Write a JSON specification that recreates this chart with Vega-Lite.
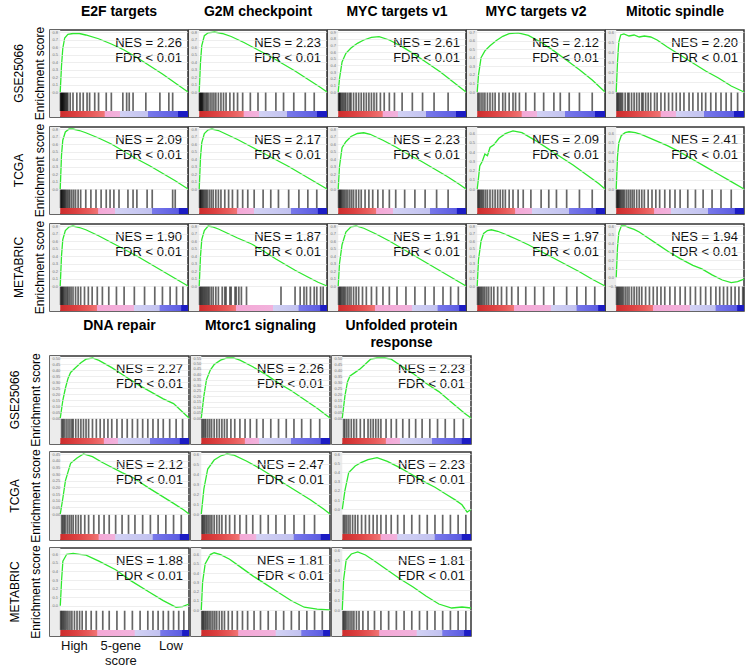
{
"$schema":"https://vega.github.io/schema/vega-lite/v6.json",
"padding":{"left":9,"top":5,"right":0,"bottom":0},
"config":{"font":"Liberation Sans","view":{"stroke":"#333","strokeWidth":1.5},"header":{"labelColor":"#000","labelFont":"Liberation Sans"}},
"datasets":{
"panels":[
{"p":"A1","g":"E2F targets","d":"GSE25066","nes":2.26,"s":"top"},
{"p":"A2","g":"G2M checkpoint","d":"GSE25066","nes":2.23,"s":"top"},
{"p":"A3","g":"MYC targets v1","d":"GSE25066","nes":2.61,"s":"top"},
{"p":"A4","g":"MYC targets v2","d":"GSE25066","nes":2.12,"s":"top"},
{"p":"A5","g":"Mitotic spindle","d":"GSE25066","nes":2.20,"s":"top"},
{"p":"B1","g":"E2F targets","d":"TCGA","nes":2.09,"s":"top"},
{"p":"B2","g":"G2M checkpoint","d":"TCGA","nes":2.17,"s":"top"},
{"p":"B3","g":"MYC targets v1","d":"TCGA","nes":2.23,"s":"top"},
{"p":"B4","g":"MYC targets v2","d":"TCGA","nes":2.09,"s":"top"},
{"p":"B5","g":"Mitotic spindle","d":"TCGA","nes":2.41,"s":"top"},
{"p":"C1","g":"E2F targets","d":"METABRIC","nes":1.90,"s":"top"},
{"p":"C2","g":"G2M checkpoint","d":"METABRIC","nes":1.87,"s":"top"},
{"p":"C3","g":"MYC targets v1","d":"METABRIC","nes":1.91,"s":"top"},
{"p":"C4","g":"MYC targets v2","d":"METABRIC","nes":1.97,"s":"top"},
{"p":"C5","g":"Mitotic spindle","d":"METABRIC","nes":1.94,"s":"top"},
{"p":"D1","g":"DNA repair","d":"GSE25066","nes":2.27,"s":"bottom"},
{"p":"D2","g":"Mtorc1 signaling","d":"GSE25066","nes":2.26,"s":"bottom"},
{"p":"D3","g":"Unfolded protein response","d":"GSE25066","nes":2.23,"s":"bottom"},
{"p":"E1","g":"DNA repair","d":"TCGA","nes":2.12,"s":"bottom"},
{"p":"E2","g":"Mtorc1 signaling","d":"TCGA","nes":2.47,"s":"bottom"},
{"p":"E3","g":"Unfolded protein response","d":"TCGA","nes":2.23,"s":"bottom"},
{"p":"F1","g":"DNA repair","d":"METABRIC","nes":1.88,"s":"bottom"},
{"p":"F2","g":"Mtorc1 signaling","d":"METABRIC","nes":1.81,"s":"bottom"},
{"p":"F3","g":"Unfolded protein response","d":"METABRIC","nes":1.81,"s":"bottom"}
],
"rows":[
{"p":"A1","t":"n"},{"p":"A2","t":"n"},{"p":"A3","t":"n"},{"p":"A4","t":"n"},{"p":"A5","t":"n"},
{"p":"B1","t":"n"},{"p":"B2","t":"n"},{"p":"B3","t":"n"},{"p":"B4","t":"n"},{"p":"B5","t":"n"},
{"p":"C1","t":"n"},{"p":"C2","t":"n"},{"p":"C3","t":"n"},{"p":"C4","t":"n"},{"p":"C5","t":"n"},
{"p":"D1","t":"n"},{"p":"D2","t":"n"},{"p":"D3","t":"n"},
{"p":"E1","t":"n"},{"p":"E2","t":"n"},{"p":"E3","t":"n"},
{"p":"F1","t":"n"},{"p":"F2","t":"n"},{"p":"F3","t":"n"},

{"p":"A1","r":0,"e":0},{"p":"A1","r":0.01,"e":0.35},{"p":"A1","r":0.02,"e":0.58},{"p":"A1","r":0.035,"e":0.72},{"p":"A1","r":0.06,"e":0.77},{"p":"A1","r":0.1,"e":0.78},{"p":"A1","r":0.15,"e":0.78},{"p":"A1","r":0.2,"e":0.76},{"p":"A1","r":0.3,"e":0.71},{"p":"A1","r":0.4,"e":0.64},{"p":"A1","r":0.5,"e":0.56},{"p":"A1","r":0.6,"e":0.46},{"p":"A1","r":0.7,"e":0.35},{"p":"A1","r":0.8,"e":0.24},{"p":"A1","r":0.9,"e":0.12},{"p":"A1","r":1,"e":0},
{"p":"A2","r":0,"e":0},{"p":"A2","r":0.01,"e":0.4},{"p":"A2","r":0.02,"e":0.62},{"p":"A2","r":0.04,"e":0.75},{"p":"A2","r":0.07,"e":0.79},{"p":"A2","r":0.12,"e":0.8},{"p":"A2","r":0.18,"e":0.78},{"p":"A2","r":0.25,"e":0.74},{"p":"A2","r":0.35,"e":0.66},{"p":"A2","r":0.45,"e":0.57},{"p":"A2","r":0.55,"e":0.48},{"p":"A2","r":0.65,"e":0.38},{"p":"A2","r":0.75,"e":0.28},{"p":"A2","r":0.85,"e":0.17},{"p":"A2","r":0.95,"e":0.06},{"p":"A2","r":1,"e":0},
{"p":"A3","r":0,"e":0},{"p":"A3","r":0.01,"e":0.2},{"p":"A3","r":0.03,"e":0.45},{"p":"A3","r":0.06,"e":0.58},{"p":"A3","r":0.1,"e":0.66},{"p":"A3","r":0.15,"e":0.73},{"p":"A3","r":0.2,"e":0.78},{"p":"A3","r":0.26,"e":0.82},{"p":"A3","r":0.32,"e":0.83},{"p":"A3","r":0.4,"e":0.78},{"p":"A3","r":0.5,"e":0.68},{"p":"A3","r":0.6,"e":0.56},{"p":"A3","r":0.7,"e":0.43},{"p":"A3","r":0.8,"e":0.3},{"p":"A3","r":0.9,"e":0.15},{"p":"A3","r":1,"e":0},
{"p":"A4","r":0,"e":0},{"p":"A4","r":0.01,"e":0.2},{"p":"A4","r":0.03,"e":0.4},{"p":"A4","r":0.06,"e":0.48},{"p":"A4","r":0.1,"e":0.54},{"p":"A4","r":0.15,"e":0.6},{"p":"A4","r":0.2,"e":0.65},{"p":"A4","r":0.25,"e":0.68},{"p":"A4","r":0.32,"e":0.69},{"p":"A4","r":0.4,"e":0.66},{"p":"A4","r":0.5,"e":0.58},{"p":"A4","r":0.6,"e":0.48},{"p":"A4","r":0.7,"e":0.37},{"p":"A4","r":0.8,"e":0.26},{"p":"A4","r":0.9,"e":0.14},{"p":"A4","r":1,"e":0},
{"p":"A5","r":0,"e":0},{"p":"A5","r":0.01,"e":0.3},{"p":"A5","r":0.02,"e":0.5},{"p":"A5","r":0.035,"e":0.57},{"p":"A5","r":0.06,"e":0.58},{"p":"A5","r":0.1,"e":0.56},{"p":"A5","r":0.14,"e":0.57},{"p":"A5","r":0.18,"e":0.55},{"p":"A5","r":0.22,"e":0.56},{"p":"A5","r":0.27,"e":0.55},{"p":"A5","r":0.32,"e":0.52},{"p":"A5","r":0.4,"e":0.45},{"p":"A5","r":0.5,"e":0.37},{"p":"A5","r":0.6,"e":0.29},{"p":"A5","r":0.7,"e":0.21},{"p":"A5","r":0.8,"e":0.14},{"p":"A5","r":0.9,"e":0.06},{"p":"A5","r":1,"e":0},
{"p":"B1","r":0,"e":0},{"p":"B1","r":0.01,"e":0.45},{"p":"B1","r":0.02,"e":0.65},{"p":"B1","r":0.04,"e":0.76},{"p":"B1","r":0.07,"e":0.8},{"p":"B1","r":0.1,"e":0.8},{"p":"B1","r":0.15,"e":0.78},{"p":"B1","r":0.2,"e":0.75},{"p":"B1","r":0.3,"e":0.68},{"p":"B1","r":0.4,"e":0.6},{"p":"B1","r":0.5,"e":0.5},{"p":"B1","r":0.6,"e":0.4},{"p":"B1","r":0.7,"e":0.31},{"p":"B1","r":0.8,"e":0.21},{"p":"B1","r":0.9,"e":0.11},{"p":"B1","r":1,"e":0},
{"p":"B2","r":0,"e":0},{"p":"B2","r":0.01,"e":0.42},{"p":"B2","r":0.02,"e":0.62},{"p":"B2","r":0.04,"e":0.74},{"p":"B2","r":0.07,"e":0.79},{"p":"B2","r":0.1,"e":0.8},{"p":"B2","r":0.15,"e":0.78},{"p":"B2","r":0.2,"e":0.74},{"p":"B2","r":0.3,"e":0.66},{"p":"B2","r":0.4,"e":0.57},{"p":"B2","r":0.5,"e":0.48},{"p":"B2","r":0.6,"e":0.39},{"p":"B2","r":0.7,"e":0.3},{"p":"B2","r":0.8,"e":0.2},{"p":"B2","r":0.9,"e":0.1},{"p":"B2","r":1,"e":0},
{"p":"B3","r":0,"e":0},{"p":"B3","r":0.01,"e":0.3},{"p":"B3","r":0.03,"e":0.55},{"p":"B3","r":0.06,"e":0.63},{"p":"B3","r":0.1,"e":0.7},{"p":"B3","r":0.15,"e":0.74},{"p":"B3","r":0.2,"e":0.75},{"p":"B3","r":0.25,"e":0.73},{"p":"B3","r":0.35,"e":0.65},{"p":"B3","r":0.45,"e":0.56},{"p":"B3","r":0.55,"e":0.46},{"p":"B3","r":0.65,"e":0.37},{"p":"B3","r":0.75,"e":0.27},{"p":"B3","r":0.85,"e":0.17},{"p":"B3","r":0.95,"e":0.06},{"p":"B3","r":1,"e":0},
{"p":"B4","r":0,"e":0},{"p":"B4","r":0.01,"e":0.12},{"p":"B4","r":0.02,"e":0.25},{"p":"B4","r":0.04,"e":0.3},{"p":"B4","r":0.06,"e":0.38},{"p":"B4","r":0.08,"e":0.36},{"p":"B4","r":0.1,"e":0.45},{"p":"B4","r":0.13,"e":0.48},{"p":"B4","r":0.17,"e":0.55},{"p":"B4","r":0.22,"e":0.6},{"p":"B4","r":0.28,"e":0.63},{"p":"B4","r":0.35,"e":0.61},{"p":"B4","r":0.45,"e":0.53},{"p":"B4","r":0.55,"e":0.44},{"p":"B4","r":0.65,"e":0.35},{"p":"B4","r":0.75,"e":0.26},{"p":"B4","r":0.85,"e":0.16},{"p":"B4","r":0.95,"e":0.06},{"p":"B4","r":1,"e":0},
{"p":"B5","r":0,"e":0},{"p":"B5","r":0.01,"e":0.35},{"p":"B5","r":0.02,"e":0.5},{"p":"B5","r":0.04,"e":0.58},{"p":"B5","r":0.07,"e":0.61},{"p":"B5","r":0.1,"e":0.62},{"p":"B5","r":0.15,"e":0.61},{"p":"B5","r":0.2,"e":0.59},{"p":"B5","r":0.3,"e":0.53},{"p":"B5","r":0.4,"e":0.47},{"p":"B5","r":0.5,"e":0.4},{"p":"B5","r":0.6,"e":0.32},{"p":"B5","r":0.7,"e":0.24},{"p":"B5","r":0.8,"e":0.16},{"p":"B5","r":0.9,"e":0.08},{"p":"B5","r":1,"e":0},
{"p":"C1","r":0,"e":0},{"p":"C1","r":0.01,"e":0.4},{"p":"C1","r":0.02,"e":0.62},{"p":"C1","r":0.04,"e":0.74},{"p":"C1","r":0.07,"e":0.79},{"p":"C1","r":0.1,"e":0.8},{"p":"C1","r":0.15,"e":0.78},{"p":"C1","r":0.2,"e":0.75},{"p":"C1","r":0.3,"e":0.67},{"p":"C1","r":0.4,"e":0.58},{"p":"C1","r":0.5,"e":0.49},{"p":"C1","r":0.6,"e":0.4},{"p":"C1","r":0.7,"e":0.3},{"p":"C1","r":0.8,"e":0.2},{"p":"C1","r":0.9,"e":0.1},{"p":"C1","r":1,"e":0},
{"p":"C2","r":0,"e":0},{"p":"C2","r":0.01,"e":0.4},{"p":"C2","r":0.02,"e":0.62},{"p":"C2","r":0.04,"e":0.74},{"p":"C2","r":0.07,"e":0.8},{"p":"C2","r":0.1,"e":0.79},{"p":"C2","r":0.15,"e":0.76},{"p":"C2","r":0.2,"e":0.72},{"p":"C2","r":0.3,"e":0.64},{"p":"C2","r":0.41,"e":0.56},{"p":"C2","r":0.5,"e":0.47},{"p":"C2","r":0.6,"e":0.36},{"p":"C2","r":0.67,"e":0.29},{"p":"C2","r":0.75,"e":0.21},{"p":"C2","r":0.85,"e":0.12},{"p":"C2","r":0.93,"e":0.05},{"p":"C2","r":1,"e":0},
{"p":"C3","r":0,"e":0},{"p":"C3","r":0.01,"e":0.3},{"p":"C3","r":0.03,"e":0.55},{"p":"C3","r":0.06,"e":0.72},{"p":"C3","r":0.1,"e":0.79},{"p":"C3","r":0.14,"e":0.8},{"p":"C3","r":0.2,"e":0.77},{"p":"C3","r":0.3,"e":0.69},{"p":"C3","r":0.4,"e":0.6},{"p":"C3","r":0.5,"e":0.5},{"p":"C3","r":0.6,"e":0.4},{"p":"C3","r":0.7,"e":0.3},{"p":"C3","r":0.8,"e":0.2},{"p":"C3","r":0.9,"e":0.1},{"p":"C3","r":1,"e":0},
{"p":"C4","r":0,"e":0},{"p":"C4","r":0.01,"e":0.35},{"p":"C4","r":0.03,"e":0.6},{"p":"C4","r":0.05,"e":0.7},{"p":"C4","r":0.08,"e":0.74},{"p":"C4","r":0.11,"e":0.75},{"p":"C4","r":0.16,"e":0.73},{"p":"C4","r":0.22,"e":0.69},{"p":"C4","r":0.3,"e":0.63},{"p":"C4","r":0.4,"e":0.55},{"p":"C4","r":0.5,"e":0.46},{"p":"C4","r":0.6,"e":0.37},{"p":"C4","r":0.7,"e":0.28},{"p":"C4","r":0.8,"e":0.19},{"p":"C4","r":0.9,"e":0.09},{"p":"C4","r":1,"e":0},
{"p":"C5","r":0,"e":0},{"p":"C5","r":0.01,"e":0.35},{"p":"C5","r":0.02,"e":0.52},{"p":"C5","r":0.04,"e":0.6},{"p":"C5","r":0.07,"e":0.6},{"p":"C5","r":0.1,"e":0.58},{"p":"C5","r":0.14,"e":0.56},{"p":"C5","r":0.18,"e":0.53},{"p":"C5","r":0.25,"e":0.46},{"p":"C5","r":0.33,"e":0.38},{"p":"C5","r":0.41,"e":0.3},{"p":"C5","r":0.5,"e":0.22},{"p":"C5","r":0.6,"e":0.14},{"p":"C5","r":0.67,"e":0.1},{"p":"C5","r":0.75,"e":0.03},{"p":"C5","r":0.83,"e":-0.03},{"p":"C5","r":0.9,"e":-0.06},{"p":"C5","r":0.95,"e":-0.05},{"p":"C5","r":1,"e":-0.02},
{"p":"D1","r":0,"e":0},{"p":"D1","r":0.02,"e":0.15},{"p":"D1","r":0.04,"e":0.25},{"p":"D1","r":0.06,"e":0.33},{"p":"D1","r":0.08,"e":0.38},{"p":"D1","r":0.12,"e":0.42},{"p":"D1","r":0.16,"e":0.46},{"p":"D1","r":0.2,"e":0.49},{"p":"D1","r":0.25,"e":0.5},{"p":"D1","r":0.3,"e":0.48},{"p":"D1","r":0.4,"e":0.42},{"p":"D1","r":0.5,"e":0.35},{"p":"D1","r":0.6,"e":0.28},{"p":"D1","r":0.7,"e":0.22},{"p":"D1","r":0.8,"e":0.16},{"p":"D1","r":0.88,"e":0.12},{"p":"D1","r":0.95,"e":0.05},{"p":"D1","r":1,"e":0},
{"p":"D2","r":0,"e":0},{"p":"D2","r":0.02,"e":0.2},{"p":"D2","r":0.04,"e":0.35},{"p":"D2","r":0.07,"e":0.44},{"p":"D2","r":0.1,"e":0.49},{"p":"D2","r":0.15,"e":0.53},{"p":"D2","r":0.2,"e":0.55},{"p":"D2","r":0.25,"e":0.55},{"p":"D2","r":0.3,"e":0.53},{"p":"D2","r":0.4,"e":0.47},{"p":"D2","r":0.5,"e":0.4},{"p":"D2","r":0.6,"e":0.32},{"p":"D2","r":0.7,"e":0.25},{"p":"D2","r":0.8,"e":0.17},{"p":"D2","r":0.9,"e":0.09},{"p":"D2","r":1,"e":0},
{"p":"D3","r":0,"e":0},{"p":"D3","r":0.02,"e":0.18},{"p":"D3","r":0.04,"e":0.3},{"p":"D3","r":0.06,"e":0.35},{"p":"D3","r":0.1,"e":0.38},{"p":"D3","r":0.14,"e":0.41},{"p":"D3","r":0.18,"e":0.45},{"p":"D3","r":0.22,"e":0.49},{"p":"D3","r":0.27,"e":0.5},{"p":"D3","r":0.33,"e":0.5},{"p":"D3","r":0.38,"e":0.49},{"p":"D3","r":0.45,"e":0.44},{"p":"D3","r":0.55,"e":0.37},{"p":"D3","r":0.65,"e":0.29},{"p":"D3","r":0.75,"e":0.22},{"p":"D3","r":0.85,"e":0.13},{"p":"D3","r":0.95,"e":0.04},{"p":"D3","r":1,"e":0},
{"p":"E1","r":0,"e":0},{"p":"E1","r":0.02,"e":0.12},{"p":"E1","r":0.04,"e":0.25},{"p":"E1","r":0.08,"e":0.38},{"p":"E1","r":0.13,"e":0.42},{"p":"E1","r":0.18,"e":0.45},{"p":"E1","r":0.25,"e":0.43},{"p":"E1","r":0.32,"e":0.39},{"p":"E1","r":0.38,"e":0.36},{"p":"E1","r":0.48,"e":0.31},{"p":"E1","r":0.57,"e":0.27},{"p":"E1","r":0.68,"e":0.2},{"p":"E1","r":0.78,"e":0.14},{"p":"E1","r":0.88,"e":0.08},{"p":"E1","r":0.96,"e":0.03},{"p":"E1","r":1,"e":0},
{"p":"E2","r":0,"e":0},{"p":"E2","r":0.02,"e":0.25},{"p":"E2","r":0.05,"e":0.45},{"p":"E2","r":0.1,"e":0.54},{"p":"E2","r":0.15,"e":0.58},{"p":"E2","r":0.2,"e":0.6},{"p":"E2","r":0.25,"e":0.59},{"p":"E2","r":0.35,"e":0.53},{"p":"E2","r":0.45,"e":0.46},{"p":"E2","r":0.55,"e":0.38},{"p":"E2","r":0.65,"e":0.3},{"p":"E2","r":0.75,"e":0.22},{"p":"E2","r":0.85,"e":0.14},{"p":"E2","r":0.95,"e":0.05},{"p":"E2","r":1,"e":0},
{"p":"E3","r":0,"e":0},{"p":"E3","r":0.02,"e":0.2},{"p":"E3","r":0.05,"e":0.4},{"p":"E3","r":0.1,"e":0.47},{"p":"E3","r":0.15,"e":0.51},{"p":"E3","r":0.2,"e":0.54},{"p":"E3","r":0.27,"e":0.56},{"p":"E3","r":0.35,"e":0.52},{"p":"E3","r":0.45,"e":0.45},{"p":"E3","r":0.55,"e":0.37},{"p":"E3","r":0.65,"e":0.29},{"p":"E3","r":0.72,"e":0.24},{"p":"E3","r":0.8,"e":0.17},{"p":"E3","r":0.88,"e":0.1},{"p":"E3","r":0.93,"e":0.05},{"p":"E3","r":0.97,"e":-0.03},{"p":"E3","r":1,"e":0},
{"p":"F1","r":0,"e":0},{"p":"F1","r":0.01,"e":0.3},{"p":"F1","r":0.02,"e":0.52},{"p":"F1","r":0.05,"e":0.6},{"p":"F1","r":0.1,"e":0.61},{"p":"F1","r":0.15,"e":0.6},{"p":"F1","r":0.2,"e":0.59},{"p":"F1","r":0.3,"e":0.52},{"p":"F1","r":0.43,"e":0.42},{"p":"F1","r":0.55,"e":0.29},{"p":"F1","r":0.69,"e":0.16},{"p":"F1","r":0.8,"e":0.06},{"p":"F1","r":0.9,"e":-0.02},{"p":"F1","r":0.95,"e":-0.01},{"p":"F1","r":1,"e":0.02},
{"p":"F2","r":0,"e":0},{"p":"F2","r":0.01,"e":0.3},{"p":"F2","r":0.03,"e":0.5},{"p":"F2","r":0.07,"e":0.6},{"p":"F2","r":0.1,"e":0.62},{"p":"F2","r":0.15,"e":0.6},{"p":"F2","r":0.22,"e":0.55},{"p":"F2","r":0.3,"e":0.47},{"p":"F2","r":0.4,"e":0.37},{"p":"F2","r":0.5,"e":0.28},{"p":"F2","r":0.6,"e":0.19},{"p":"F2","r":0.7,"e":0.1},{"p":"F2","r":0.8,"e":0.03},{"p":"F2","r":0.9,"e":0.01},{"p":"F2","r":1,"e":0},
{"p":"F3","r":0,"e":0},{"p":"F3","r":0.01,"e":0.3},{"p":"F3","r":0.03,"e":0.5},{"p":"F3","r":0.07,"e":0.56},{"p":"F3","r":0.12,"e":0.58},{"p":"F3","r":0.18,"e":0.55},{"p":"F3","r":0.25,"e":0.49},{"p":"F3","r":0.35,"e":0.4},{"p":"F3","r":0.45,"e":0.31},{"p":"F3","r":0.55,"e":0.23},{"p":"F3","r":0.65,"e":0.14},{"p":"F3","r":0.75,"e":0.06},{"p":"F3","r":0.85,"e":0.02},{"p":"F3","r":0.93,"e":0.03},{"p":"F3","r":1,"e":0.02},

{"p":"A1","r":0.002},{"p":"A1","r":0.006},{"p":"A1","r":0.01},{"p":"A1","r":0.014},{"p":"A1","r":0.018},{"p":"A1","r":0.022},{"p":"A1","r":0.027},{"p":"A1","r":0.032},{"p":"A1","r":0.038},{"p":"A1","r":0.045},{"p":"A1","r":0.052},{"p":"A1","r":0.06},{"p":"A1","r":0.078},{"p":"A1","r":0.1},{"p":"A1","r":0.13},{"p":"A1","r":0.155},{"p":"A1","r":0.18},{"p":"A1","r":0.21},{"p":"A1","r":0.23},{"p":"A1","r":0.27},{"p":"A1","r":0.3},{"p":"A1","r":0.36},{"p":"A1","r":0.4},{"p":"A1","r":0.49},{"p":"A1","r":0.52},{"p":"A1","r":0.54},{"p":"A1","r":0.57},{"p":"A1","r":0.67},{"p":"A1","r":0.78},{"p":"A1","r":0.85},{"p":"A1","r":0.88},
{"p":"A2","r":0.002},{"p":"A2","r":0.006},{"p":"A2","r":0.01},{"p":"A2","r":0.015},{"p":"A2","r":0.02},{"p":"A2","r":0.025},{"p":"A2","r":0.03},{"p":"A2","r":0.04},{"p":"A2","r":0.05},{"p":"A2","r":0.06},{"p":"A2","r":0.07},{"p":"A2","r":0.085},{"p":"A2","r":0.1},{"p":"A2","r":0.115},{"p":"A2","r":0.13},{"p":"A2","r":0.15},{"p":"A2","r":0.17},{"p":"A2","r":0.19},{"p":"A2","r":0.21},{"p":"A2","r":0.24},{"p":"A2","r":0.27},{"p":"A2","r":0.3},{"p":"A2","r":0.34},{"p":"A2","r":0.4},{"p":"A2","r":0.46},{"p":"A2","r":0.52},{"p":"A2","r":0.6},{"p":"A2","r":0.66},{"p":"A2","r":0.74},{"p":"A2","r":0.83},{"p":"A2","r":0.9},
{"p":"A3","r":0.003},{"p":"A3","r":0.008},{"p":"A3","r":0.013},{"p":"A3","r":0.02},{"p":"A3","r":0.03},{"p":"A3","r":0.04},{"p":"A3","r":0.05},{"p":"A3","r":0.06},{"p":"A3","r":0.075},{"p":"A3","r":0.09},{"p":"A3","r":0.1},{"p":"A3","r":0.12},{"p":"A3","r":0.14},{"p":"A3","r":0.16},{"p":"A3","r":0.18},{"p":"A3","r":0.2},{"p":"A3","r":0.22},{"p":"A3","r":0.24},{"p":"A3","r":0.26},{"p":"A3","r":0.28},{"p":"A3","r":0.3},{"p":"A3","r":0.33},{"p":"A3","r":0.36},{"p":"A3","r":0.4},{"p":"A3","r":0.44},{"p":"A3","r":0.5},{"p":"A3","r":0.58},{"p":"A3","r":0.66},{"p":"A3","r":0.75},{"p":"A3","r":0.86},
{"p":"A4","r":0.005},{"p":"A4","r":0.015},{"p":"A4","r":0.03},{"p":"A4","r":0.045},{"p":"A4","r":0.06},{"p":"A4","r":0.08},{"p":"A4","r":0.1},{"p":"A4","r":0.12},{"p":"A4","r":0.14},{"p":"A4","r":0.17},{"p":"A4","r":0.2},{"p":"A4","r":0.22},{"p":"A4","r":0.25},{"p":"A4","r":0.28},{"p":"A4","r":0.3},{"p":"A4","r":0.33},{"p":"A4","r":0.38},{"p":"A4","r":0.45},{"p":"A4","r":0.52},{"p":"A4","r":0.6},{"p":"A4","r":0.65},{"p":"A4","r":0.72},{"p":"A4","r":0.8},{"p":"A4","r":0.9},
{"p":"A5","r":0.005},{"p":"A5","r":0.012},{"p":"A5","r":0.02},{"p":"A5","r":0.03},{"p":"A5","r":0.04},{"p":"A5","r":0.05},{"p":"A5","r":0.07},{"p":"A5","r":0.09},{"p":"A5","r":0.1},{"p":"A5","r":0.12},{"p":"A5","r":0.14},{"p":"A5","r":0.16},{"p":"A5","r":0.18},{"p":"A5","r":0.2},{"p":"A5","r":0.21},{"p":"A5","r":0.23},{"p":"A5","r":0.25},{"p":"A5","r":0.27},{"p":"A5","r":0.3},{"p":"A5","r":0.32},{"p":"A5","r":0.35},{"p":"A5","r":0.38},{"p":"A5","r":0.41},{"p":"A5","r":0.44},{"p":"A5","r":0.47},{"p":"A5","r":0.5},{"p":"A5","r":0.53},{"p":"A5","r":0.57},{"p":"A5","r":0.6},{"p":"A5","r":0.64},{"p":"A5","r":0.67},{"p":"A5","r":0.7},{"p":"A5","r":0.74},{"p":"A5","r":0.78},{"p":"A5","r":0.82},{"p":"A5","r":0.86},{"p":"A5","r":0.9},{"p":"A5","r":0.95},
{"p":"B1","r":0.003},{"p":"B1","r":0.008},{"p":"B1","r":0.013},{"p":"B1","r":0.018},{"p":"B1","r":0.024},{"p":"B1","r":0.03},{"p":"B1","r":0.037},{"p":"B1","r":0.045},{"p":"B1","r":0.055},{"p":"B1","r":0.065},{"p":"B1","r":0.075},{"p":"B1","r":0.09},{"p":"B1","r":0.105},{"p":"B1","r":0.12},{"p":"B1","r":0.14},{"p":"B1","r":0.16},{"p":"B1","r":0.2},{"p":"B1","r":0.24},{"p":"B1","r":0.28},{"p":"B1","r":0.32},{"p":"B1","r":0.36},{"p":"B1","r":0.39},{"p":"B1","r":0.42},{"p":"B1","r":0.46},{"p":"B1","r":0.53},{"p":"B1","r":0.57},{"p":"B1","r":0.6},{"p":"B1","r":0.68},{"p":"B1","r":0.72},{"p":"B1","r":0.88},{"p":"B1","r":0.9},
{"p":"B2","r":0.003},{"p":"B2","r":0.008},{"p":"B2","r":0.013},{"p":"B2","r":0.02},{"p":"B2","r":0.027},{"p":"B2","r":0.035},{"p":"B2","r":0.045},{"p":"B2","r":0.055},{"p":"B2","r":0.065},{"p":"B2","r":0.08},{"p":"B2","r":0.095},{"p":"B2","r":0.11},{"p":"B2","r":0.13},{"p":"B2","r":0.15},{"p":"B2","r":0.17},{"p":"B2","r":0.2},{"p":"B2","r":0.23},{"p":"B2","r":0.26},{"p":"B2","r":0.3},{"p":"B2","r":0.34},{"p":"B2","r":0.38},{"p":"B2","r":0.43},{"p":"B2","r":0.5},{"p":"B2","r":0.56},{"p":"B2","r":0.62},{"p":"B2","r":0.7},{"p":"B2","r":0.78},{"p":"B2","r":0.85},{"p":"B2","r":0.92},
{"p":"B3","r":0.003},{"p":"B3","r":0.009},{"p":"B3","r":0.015},{"p":"B3","r":0.022},{"p":"B3","r":0.03},{"p":"B3","r":0.04},{"p":"B3","r":0.05},{"p":"B3","r":0.062},{"p":"B3","r":0.075},{"p":"B3","r":0.09},{"p":"B3","r":0.105},{"p":"B3","r":0.12},{"p":"B3","r":0.14},{"p":"B3","r":0.16},{"p":"B3","r":0.18},{"p":"B3","r":0.21},{"p":"B3","r":0.24},{"p":"B3","r":0.27},{"p":"B3","r":0.31},{"p":"B3","r":0.35},{"p":"B3","r":0.4},{"p":"B3","r":0.45},{"p":"B3","r":0.52},{"p":"B3","r":0.6},{"p":"B3","r":0.68},{"p":"B3","r":0.77},{"p":"B3","r":0.86},
{"p":"B4","r":0.005},{"p":"B4","r":0.012},{"p":"B4","r":0.02},{"p":"B4","r":0.03},{"p":"B4","r":0.04},{"p":"B4","r":0.05},{"p":"B4","r":0.065},{"p":"B4","r":0.08},{"p":"B4","r":0.1},{"p":"B4","r":0.12},{"p":"B4","r":0.14},{"p":"B4","r":0.16},{"p":"B4","r":0.18},{"p":"B4","r":0.2},{"p":"B4","r":0.22},{"p":"B4","r":0.25},{"p":"B4","r":0.28},{"p":"B4","r":0.32},{"p":"B4","r":0.36},{"p":"B4","r":0.42},{"p":"B4","r":0.5},{"p":"B4","r":0.56},{"p":"B4","r":0.62},{"p":"B4","r":0.7},{"p":"B4","r":0.8},{"p":"B4","r":0.9},
{"p":"B5","r":0.003},{"p":"B5","r":0.008},{"p":"B5","r":0.014},{"p":"B5","r":0.02},{"p":"B5","r":0.027},{"p":"B5","r":0.035},{"p":"B5","r":0.045},{"p":"B5","r":0.055},{"p":"B5","r":0.065},{"p":"B5","r":0.08},{"p":"B5","r":0.095},{"p":"B5","r":0.11},{"p":"B5","r":0.125},{"p":"B5","r":0.14},{"p":"B5","r":0.16},{"p":"B5","r":0.18},{"p":"B5","r":0.2},{"p":"B5","r":0.22},{"p":"B5","r":0.25},{"p":"B5","r":0.28},{"p":"B5","r":0.31},{"p":"B5","r":0.34},{"p":"B5","r":0.38},{"p":"B5","r":0.42},{"p":"B5","r":0.46},{"p":"B5","r":0.5},{"p":"B5","r":0.56},{"p":"B5","r":0.62},{"p":"B5","r":0.68},{"p":"B5","r":0.75},{"p":"B5","r":0.82},{"p":"B5","r":0.9},
{"p":"C1","r":0.003},{"p":"C1","r":0.009},{"p":"C1","r":0.015},{"p":"C1","r":0.022},{"p":"C1","r":0.03},{"p":"C1","r":0.04},{"p":"C1","r":0.05},{"p":"C1","r":0.06},{"p":"C1","r":0.072},{"p":"C1","r":0.085},{"p":"C1","r":0.1},{"p":"C1","r":0.12},{"p":"C1","r":0.14},{"p":"C1","r":0.16},{"p":"C1","r":0.19},{"p":"C1","r":0.22},{"p":"C1","r":0.25},{"p":"C1","r":0.29},{"p":"C1","r":0.33},{"p":"C1","r":0.38},{"p":"C1","r":0.44},{"p":"C1","r":0.5},{"p":"C1","r":0.58},{"p":"C1","r":0.66},{"p":"C1","r":0.74},{"p":"C1","r":0.8},{"p":"C1","r":0.86},{"p":"C1","r":0.91},{"p":"C1","r":0.96},
{"p":"C2","r":0.003},{"p":"C2","r":0.01},{"p":"C2","r":0.017},{"p":"C2","r":0.025},{"p":"C2","r":0.033},{"p":"C2","r":0.042},{"p":"C2","r":0.05},{"p":"C2","r":0.06},{"p":"C2","r":0.07},{"p":"C2","r":0.08},{"p":"C2","r":0.095},{"p":"C2","r":0.11},{"p":"C2","r":0.13},{"p":"C2","r":0.15},{"p":"C2","r":0.18},{"p":"C2","r":0.2},{"p":"C2","r":0.21},{"p":"C2","r":0.24},{"p":"C2","r":0.25},{"p":"C2","r":0.28},{"p":"C2","r":0.29},{"p":"C2","r":0.31},{"p":"C2","r":0.33},{"p":"C2","r":0.37},{"p":"C2","r":0.64},{"p":"C2","r":0.75},{"p":"C2","r":0.79},{"p":"C2","r":0.82},{"p":"C2","r":0.84},{"p":"C2","r":0.87},{"p":"C2","r":0.9},{"p":"C2","r":0.92},{"p":"C2","r":0.95},{"p":"C2","r":0.97},
{"p":"C3","r":0.003},{"p":"C3","r":0.01},{"p":"C3","r":0.017},{"p":"C3","r":0.025},{"p":"C3","r":0.035},{"p":"C3","r":0.045},{"p":"C3","r":0.055},{"p":"C3","r":0.07},{"p":"C3","r":0.085},{"p":"C3","r":0.1},{"p":"C3","r":0.12},{"p":"C3","r":0.14},{"p":"C3","r":0.16},{"p":"C3","r":0.19},{"p":"C3","r":0.22},{"p":"C3","r":0.26},{"p":"C3","r":0.3},{"p":"C3","r":0.35},{"p":"C3","r":0.4},{"p":"C3","r":0.46},{"p":"C3","r":0.53},{"p":"C3","r":0.6},{"p":"C3","r":0.68},{"p":"C3","r":0.75},{"p":"C3","r":0.82},{"p":"C3","r":0.88},{"p":"C3","r":0.94},
{"p":"C4","r":0.003},{"p":"C4","r":0.01},{"p":"C4","r":0.018},{"p":"C4","r":0.027},{"p":"C4","r":0.037},{"p":"C4","r":0.048},{"p":"C4","r":0.06},{"p":"C4","r":0.075},{"p":"C4","r":0.09},{"p":"C4","r":0.11},{"p":"C4","r":0.13},{"p":"C4","r":0.16},{"p":"C4","r":0.19},{"p":"C4","r":0.23},{"p":"C4","r":0.27},{"p":"C4","r":0.32},{"p":"C4","r":0.38},{"p":"C4","r":0.45},{"p":"C4","r":0.52},{"p":"C4","r":0.6},{"p":"C4","r":0.7},{"p":"C4","r":0.78},{"p":"C4","r":0.85},{"p":"C4","r":0.92},
{"p":"C5","r":0.003},{"p":"C5","r":0.01},{"p":"C5","r":0.018},{"p":"C5","r":0.026},{"p":"C5","r":0.035},{"p":"C5","r":0.045},{"p":"C5","r":0.055},{"p":"C5","r":0.07},{"p":"C5","r":0.085},{"p":"C5","r":0.1},{"p":"C5","r":0.12},{"p":"C5","r":0.14},{"p":"C5","r":0.16},{"p":"C5","r":0.18},{"p":"C5","r":0.2},{"p":"C5","r":0.23},{"p":"C5","r":0.26},{"p":"C5","r":0.29},{"p":"C5","r":0.32},{"p":"C5","r":0.35},{"p":"C5","r":0.38},{"p":"C5","r":0.42},{"p":"C5","r":0.46},{"p":"C5","r":0.5},{"p":"C5","r":0.54},{"p":"C5","r":0.58},{"p":"C5","r":0.62},{"p":"C5","r":0.66},{"p":"C5","r":0.7},{"p":"C5","r":0.74},{"p":"C5","r":0.78},{"p":"C5","r":0.81},{"p":"C5","r":0.84},{"p":"C5","r":0.87},{"p":"C5","r":0.9},{"p":"C5","r":0.93},{"p":"C5","r":0.96},{"p":"C5","r":0.99},
{"p":"D1","r":0.01},{"p":"D1","r":0.02},{"p":"D1","r":0.03},{"p":"D1","r":0.045},{"p":"D1","r":0.06},{"p":"D1","r":0.075},{"p":"D1","r":0.09},{"p":"D1","r":0.1},{"p":"D1","r":0.12},{"p":"D1","r":0.14},{"p":"D1","r":0.16},{"p":"D1","r":0.18},{"p":"D1","r":0.2},{"p":"D1","r":0.22},{"p":"D1","r":0.25},{"p":"D1","r":0.28},{"p":"D1","r":0.31},{"p":"D1","r":0.34},{"p":"D1","r":0.37},{"p":"D1","r":0.4},{"p":"D1","r":0.44},{"p":"D1","r":0.48},{"p":"D1","r":0.52},{"p":"D1","r":0.56},{"p":"D1","r":0.6},{"p":"D1","r":0.64},{"p":"D1","r":0.68},{"p":"D1","r":0.72},{"p":"D1","r":0.76},{"p":"D1","r":0.8},{"p":"D1","r":0.85},{"p":"D1","r":0.9},{"p":"D1","r":0.95},
{"p":"D2","r":0.005},{"p":"D2","r":0.015},{"p":"D2","r":0.025},{"p":"D2","r":0.035},{"p":"D2","r":0.05},{"p":"D2","r":0.065},{"p":"D2","r":0.08},{"p":"D2","r":0.1},{"p":"D2","r":0.12},{"p":"D2","r":0.14},{"p":"D2","r":0.16},{"p":"D2","r":0.18},{"p":"D2","r":0.2},{"p":"D2","r":0.23},{"p":"D2","r":0.26},{"p":"D2","r":0.3},{"p":"D2","r":0.34},{"p":"D2","r":0.38},{"p":"D2","r":0.43},{"p":"D2","r":0.48},{"p":"D2","r":0.54},{"p":"D2","r":0.6},{"p":"D2","r":0.66},{"p":"D2","r":0.72},{"p":"D2","r":0.78},{"p":"D2","r":0.85},{"p":"D2","r":0.92},
{"p":"D3","r":0.01},{"p":"D3","r":0.02},{"p":"D3","r":0.035},{"p":"D3","r":0.05},{"p":"D3","r":0.07},{"p":"D3","r":0.09},{"p":"D3","r":0.11},{"p":"D3","r":0.14},{"p":"D3","r":0.17},{"p":"D3","r":0.2},{"p":"D3","r":0.22},{"p":"D3","r":0.24},{"p":"D3","r":0.26},{"p":"D3","r":0.28},{"p":"D3","r":0.3},{"p":"D3","r":0.34},{"p":"D3","r":0.38},{"p":"D3","r":0.42},{"p":"D3","r":0.47},{"p":"D3","r":0.52},{"p":"D3","r":0.57},{"p":"D3","r":0.62},{"p":"D3","r":0.68},{"p":"D3","r":0.74},{"p":"D3","r":0.8},{"p":"D3","r":0.87},{"p":"D3","r":0.94},
{"p":"E1","r":0.01},{"p":"E1","r":0.02},{"p":"E1","r":0.03},{"p":"E1","r":0.04},{"p":"E1","r":0.055},{"p":"E1","r":0.07},{"p":"E1","r":0.085},{"p":"E1","r":0.1},{"p":"E1","r":0.12},{"p":"E1","r":0.14},{"p":"E1","r":0.16},{"p":"E1","r":0.19},{"p":"E1","r":0.22},{"p":"E1","r":0.26},{"p":"E1","r":0.3},{"p":"E1","r":0.34},{"p":"E1","r":0.38},{"p":"E1","r":0.43},{"p":"E1","r":0.48},{"p":"E1","r":0.53},{"p":"E1","r":0.58},{"p":"E1","r":0.64},{"p":"E1","r":0.7},{"p":"E1","r":0.76},{"p":"E1","r":0.82},{"p":"E1","r":0.88},{"p":"E1","r":0.94},
{"p":"E2","r":0.005},{"p":"E2","r":0.013},{"p":"E2","r":0.022},{"p":"E2","r":0.032},{"p":"E2","r":0.043},{"p":"E2","r":0.055},{"p":"E2","r":0.068},{"p":"E2","r":0.082},{"p":"E2","r":0.1},{"p":"E2","r":0.12},{"p":"E2","r":0.14},{"p":"E2","r":0.16},{"p":"E2","r":0.19},{"p":"E2","r":0.22},{"p":"E2","r":0.26},{"p":"E2","r":0.3},{"p":"E2","r":0.35},{"p":"E2","r":0.4},{"p":"E2","r":0.46},{"p":"E2","r":0.52},{"p":"E2","r":0.58},{"p":"E2","r":0.65},{"p":"E2","r":0.72},{"p":"E2","r":0.8},{"p":"E2","r":0.88},
{"p":"E3","r":0.008},{"p":"E3","r":0.018},{"p":"E3","r":0.03},{"p":"E3","r":0.045},{"p":"E3","r":0.06},{"p":"E3","r":0.08},{"p":"E3","r":0.1},{"p":"E3","r":0.12},{"p":"E3","r":0.15},{"p":"E3","r":0.18},{"p":"E3","r":0.21},{"p":"E3","r":0.24},{"p":"E3","r":0.27},{"p":"E3","r":0.3},{"p":"E3","r":0.34},{"p":"E3","r":0.38},{"p":"E3","r":0.43},{"p":"E3","r":0.48},{"p":"E3","r":0.54},{"p":"E3","r":0.6},{"p":"E3","r":0.66},{"p":"E3","r":0.72},{"p":"E3","r":0.78},{"p":"E3","r":0.84},{"p":"E3","r":0.9},{"p":"E3","r":0.96},
{"p":"F1","r":0.003},{"p":"F1","r":0.01},{"p":"F1","r":0.018},{"p":"F1","r":0.027},{"p":"F1","r":0.037},{"p":"F1","r":0.048},{"p":"F1","r":0.06},{"p":"F1","r":0.075},{"p":"F1","r":0.09},{"p":"F1","r":0.11},{"p":"F1","r":0.13},{"p":"F1","r":0.15},{"p":"F1","r":0.17},{"p":"F1","r":0.2},{"p":"F1","r":0.24},{"p":"F1","r":0.28},{"p":"F1","r":0.33},{"p":"F1","r":0.38},{"p":"F1","r":0.44},{"p":"F1","r":0.5},{"p":"F1","r":0.56},{"p":"F1","r":0.62},{"p":"F1","r":0.68},{"p":"F1","r":0.72},{"p":"F1","r":0.76},{"p":"F1","r":0.8},{"p":"F1","r":0.84},{"p":"F1","r":0.88},{"p":"F1","r":0.92},{"p":"F1","r":0.96},
{"p":"F2","r":0.004},{"p":"F2","r":0.012},{"p":"F2","r":0.02},{"p":"F2","r":0.03},{"p":"F2","r":0.04},{"p":"F2","r":0.05},{"p":"F2","r":0.062},{"p":"F2","r":0.075},{"p":"F2","r":0.09},{"p":"F2","r":0.105},{"p":"F2","r":0.12},{"p":"F2","r":0.14},{"p":"F2","r":0.16},{"p":"F2","r":0.18},{"p":"F2","r":0.21},{"p":"F2","r":0.24},{"p":"F2","r":0.28},{"p":"F2","r":0.32},{"p":"F2","r":0.36},{"p":"F2","r":0.41},{"p":"F2","r":0.46},{"p":"F2","r":0.52},{"p":"F2","r":0.58},{"p":"F2","r":0.64},{"p":"F2","r":0.7},{"p":"F2","r":0.76},{"p":"F2","r":0.82},{"p":"F2","r":0.88},{"p":"F2","r":0.94},
{"p":"F3","r":0.005},{"p":"F3","r":0.013},{"p":"F3","r":0.022},{"p":"F3","r":0.032},{"p":"F3","r":0.045},{"p":"F3","r":0.06},{"p":"F3","r":0.075},{"p":"F3","r":0.09},{"p":"F3","r":0.11},{"p":"F3","r":0.13},{"p":"F3","r":0.16},{"p":"F3","r":0.2},{"p":"F3","r":0.25},{"p":"F3","r":0.3},{"p":"F3","r":0.36},{"p":"F3","r":0.42},{"p":"F3","r":0.48},{"p":"F3","r":0.54},{"p":"F3","r":0.6},{"p":"F3","r":0.66},{"p":"F3","r":0.72},{"p":"F3","r":0.78},{"p":"F3","r":0.84},{"p":"F3","r":0.9},{"p":"F3","r":0.96}
]
},
"spacing":4,
"vconcat":[
{
"data":{"name":"rows"},
"bounds":"flush",
"transform":[{"lookup":"p","from":{"data":{"name":"panels"},"key":"p","fields":["g","d","nes","s"]}},{"filter":"datum.s == 'top'"}],
"facet":{
"row":{"field":"d","type":"nominal","sort":["GSE25066","TCGA","METABRIC"],"title":null,"header":{"labelExpr":"[datum.value, 'Enrichment score']","labelFontSize":12,"labelLineHeight":21,"labelPadding":3}},
"column":{"field":"g","type":"nominal","sort":["E2F targets","G2M checkpoint","MYC targets v1","MYC targets v2","Mitotic spindle"],"title":null,"header":{"labelFontSize":14,"labelFontWeight":"bold","labelPadding":11}}
},
"spacing":{"row":10,"column":1},
"resolve":{"scale":{"y":"independent"}},
"spec":{
"width":138,"height":87,
"resolve":{"scale":{"y":"independent"}},
"layer":[
{"transform":[{"filter":"datum.t == 'n'"}],"mark":{"type":"rect","fill":"#ececec"},"encoding":{"x":{"datum":-0.08,"type":"quantitative","scale":{"domain":[-0.08,1],"nice":false,"zero":false},"axis":null},"x2":{"datum":0},"y":{"datum":0,"type":"quantitative","scale":{"domain":[0,1],"nice":false},"axis":null},"y2":{"datum":1}}},
{"transform":[{"filter":"isValid(datum.e)"}],"mark":{"type":"line","color":"#2fe82f","strokeWidth":1.3},"encoding":{"x":{"field":"r","type":"quantitative","scale":{"domain":[-0.08,1],"nice":false,"zero":false},"axis":null},"y":{"field":"e","type":"quantitative","scale":{"range":[62,2],"nice":true,"zero":true},"axis":{"orient":"left","title":null,"tickCount":8,"grid":true,"gridColor":"#e2e2e2","gridWidth":0.6,"domain":false,"ticks":false,"labelFontSize":4,"labelColor":"#777","labelAlign":"left","labelPadding":-2,"zindex":1}}}},
{"transform":[{"filter":"!isValid(datum.e) && isValid(datum.r)"}],"mark":{"type":"rule","color":"#000","strokeWidth":1.7,"opacity":0.6},"encoding":{"x":{"field":"r","type":"quantitative","scale":{"domain":[-0.08,1],"nice":false,"zero":false},"axis":null},"y":{"datum":0.069,"type":"quantitative","scale":{"domain":[0,1],"nice":false},"axis":null},"y2":{"datum":0.287}}},
{"transform":[{"filter":"datum.t == 'n' && datum.d == 'GSE25066'"}],"mark":{"type":"rect","color":{"gradient":"linear","stops":[{"offset":0,"color":"#cc2c2c"},{"offset":0.12,"color":"#dc4040"},{"offset":0.25,"color":"#e85a5a"},{"offset":0.345,"color":"#f07474"},{"offset":0.35,"color":"#f4a8d6"},{"offset":0.465,"color":"#f2b2dc"},{"offset":0.47,"color":"#d2d2f4"},{"offset":0.685,"color":"#c2c2f0"},{"offset":0.69,"color":"#7878ea"},{"offset":0.92,"color":"#5c5ce2"},{"offset":0.925,"color":"#1c1cc4"},{"offset":1,"color":"#1c1cc4"}]}},"encoding":{"x":{"datum":0,"type":"quantitative","scale":{"domain":[-0.08,1],"nice":false,"zero":false},"axis":null},"x2":{"datum":1},"y":{"datum":0,"type":"quantitative","scale":{"domain":[0,1],"nice":false},"axis":null},"y2":{"datum":0.069}}},
{"transform":[{"filter":"datum.t == 'n' && datum.d == 'TCGA'"}],"mark":{"type":"rect","color":{"gradient":"linear","stops":[{"offset":0,"color":"#cc2c2c"},{"offset":0.12,"color":"#dc4040"},{"offset":0.22,"color":"#e85a5a"},{"offset":0.295,"color":"#f07474"},{"offset":0.3,"color":"#f4a8d6"},{"offset":0.425,"color":"#f2b2dc"},{"offset":0.43,"color":"#d2d2f4"},{"offset":0.715,"color":"#c2c2f0"},{"offset":0.72,"color":"#7878ea"},{"offset":0.925,"color":"#5c5ce2"},{"offset":0.93,"color":"#1c1cc4"},{"offset":1,"color":"#1c1cc4"}]}},"encoding":{"x":{"datum":0,"type":"quantitative","scale":{"domain":[-0.08,1],"nice":false,"zero":false},"axis":null},"x2":{"datum":1},"y":{"datum":0,"type":"quantitative","scale":{"domain":[0,1],"nice":false},"axis":null},"y2":{"datum":0.069}}},
{"transform":[{"filter":"datum.t == 'n' && datum.d == 'METABRIC'"}],"mark":{"type":"rect","color":{"gradient":"linear","stops":[{"offset":0,"color":"#cc2c2c"},{"offset":0.12,"color":"#dc4040"},{"offset":0.22,"color":"#e85a5a"},{"offset":0.285,"color":"#f07474"},{"offset":0.29,"color":"#f4a8d6"},{"offset":0.575,"color":"#f2b2dc"},{"offset":0.58,"color":"#d2d2f4"},{"offset":0.775,"color":"#c2c2f0"},{"offset":0.78,"color":"#7878ea"},{"offset":0.945,"color":"#5c5ce2"},{"offset":0.95,"color":"#1c1cc4"},{"offset":1,"color":"#1c1cc4"}]}},"encoding":{"x":{"datum":0,"type":"quantitative","scale":{"domain":[-0.08,1],"nice":false,"zero":false},"axis":null},"x2":{"datum":1},"y":{"datum":0,"type":"quantitative","scale":{"domain":[0,1],"nice":false},"axis":null},"y2":{"datum":0.069}}},
{"transform":[{"filter":"datum.t == 'n'"},{"calculate":"['NES = ' + format(datum.nes, '.2f'), 'FDR < 0.01']","as":"lbl"}],"mark":{"type":"text","align":"right","baseline":"top","fontSize":13,"lineHeight":15,"color":"#111"},"encoding":{"x":{"datum":0.953,"type":"quantitative","scale":{"domain":[-0.08,1],"nice":false,"zero":false},"axis":null},"y":{"datum":0.925,"type":"quantitative","scale":{"domain":[0,1],"nice":false},"axis":null},"text":{"field":"lbl"}}}
]
}
},
{
"data":{"name":"rows"},
"bounds":"flush",
"transform":[{"lookup":"p","from":{"data":{"name":"panels"},"key":"p","fields":["g","d","nes","s"]}},{"filter":"datum.s == 'bottom'"}],
"facet":{
"row":{"field":"d","type":"nominal","sort":["GSE25066","TCGA","METABRIC"],"title":null,"header":{"labelExpr":"[datum.value, 'Enrichment score']","labelFontSize":12,"labelLineHeight":21,"labelPadding":7}},
"column":{"field":"g","type":"nominal","sort":["DNA repair","Mtorc1 signaling","Unfolded protein response"],"title":null,"header":{"labelExpr":"datum.value == 'Unfolded protein response' ? ['Unfolded protein', 'response'] : [datum.value, ' ']","labelFontSize":14,"labelFontWeight":"bold","labelLineHeight":17,"labelPadding":6}}
},
"spacing":{"row":8,"column":2},
"resolve":{"scale":{"y":"independent"}},
"spec":{
"width":139,"height":88,
"resolve":{"scale":{"y":"independent"}},
"layer":[
{"transform":[{"filter":"datum.t == 'n'"}],"mark":{"type":"rect","fill":"#ececec"},"encoding":{"x":{"datum":-0.08,"type":"quantitative","scale":{"domain":[-0.08,1],"nice":false,"zero":false},"axis":null},"x2":{"datum":0},"y":{"datum":0,"type":"quantitative","scale":{"domain":[0,1],"nice":false},"axis":null},"y2":{"datum":1}}},
{"transform":[{"filter":"isValid(datum.e)"}],"mark":{"type":"line","color":"#2fe82f","strokeWidth":1.3},"encoding":{"x":{"field":"r","type":"quantitative","scale":{"domain":[-0.08,1],"nice":false,"zero":false},"axis":null},"y":{"field":"e","type":"quantitative","scale":{"range":[62,2],"nice":true,"zero":true},"axis":{"orient":"left","title":null,"tickCount":8,"grid":true,"gridColor":"#e2e2e2","gridWidth":0.6,"domain":false,"ticks":false,"labelFontSize":4,"labelColor":"#777","labelAlign":"left","labelPadding":-2,"zindex":1}}}},
{"transform":[{"filter":"!isValid(datum.e) && isValid(datum.r)"}],"mark":{"type":"rule","color":"#000","strokeWidth":1.7,"opacity":0.6},"encoding":{"x":{"field":"r","type":"quantitative","scale":{"domain":[-0.08,1],"nice":false,"zero":false},"axis":null},"y":{"datum":0.069,"type":"quantitative","scale":{"domain":[0,1],"nice":false},"axis":null},"y2":{"datum":0.287}}},
{"transform":[{"filter":"datum.t == 'n' && datum.d == 'GSE25066'"}],"mark":{"type":"rect","color":{"gradient":"linear","stops":[{"offset":0,"color":"#cc2c2c"},{"offset":0.12,"color":"#dc4040"},{"offset":0.25,"color":"#e85a5a"},{"offset":0.335,"color":"#f07474"},{"offset":0.34,"color":"#f4a8d6"},{"offset":0.445,"color":"#f2b2dc"},{"offset":0.45,"color":"#d2d2f4"},{"offset":0.695,"color":"#c2c2f0"},{"offset":0.7,"color":"#7878ea"},{"offset":0.925,"color":"#5c5ce2"},{"offset":0.93,"color":"#1c1cc4"},{"offset":1,"color":"#1c1cc4"}]}},"encoding":{"x":{"datum":0,"type":"quantitative","scale":{"domain":[-0.08,1],"nice":false,"zero":false},"axis":null},"x2":{"datum":1},"y":{"datum":0,"type":"quantitative","scale":{"domain":[0,1],"nice":false},"axis":null},"y2":{"datum":0.069}}},
{"transform":[{"filter":"datum.t == 'n' && datum.d == 'TCGA'"}],"mark":{"type":"rect","color":{"gradient":"linear","stops":[{"offset":0,"color":"#cc2c2c"},{"offset":0.12,"color":"#dc4040"},{"offset":0.22,"color":"#e85a5a"},{"offset":0.295,"color":"#f07474"},{"offset":0.3,"color":"#f4a8d6"},{"offset":0.425,"color":"#f2b2dc"},{"offset":0.43,"color":"#d2d2f4"},{"offset":0.715,"color":"#c2c2f0"},{"offset":0.72,"color":"#7878ea"},{"offset":0.925,"color":"#5c5ce2"},{"offset":0.93,"color":"#1c1cc4"},{"offset":1,"color":"#1c1cc4"}]}},"encoding":{"x":{"datum":0,"type":"quantitative","scale":{"domain":[-0.08,1],"nice":false,"zero":false},"axis":null},"x2":{"datum":1},"y":{"datum":0,"type":"quantitative","scale":{"domain":[0,1],"nice":false},"axis":null},"y2":{"datum":0.069}}},
{"transform":[{"filter":"datum.t == 'n' && datum.d == 'METABRIC'"}],"mark":{"type":"rect","color":{"gradient":"linear","stops":[{"offset":0,"color":"#cc2c2c"},{"offset":0.12,"color":"#dc4040"},{"offset":0.22,"color":"#e85a5a"},{"offset":0.285,"color":"#f07474"},{"offset":0.29,"color":"#f4a8d6"},{"offset":0.575,"color":"#f2b2dc"},{"offset":0.58,"color":"#d2d2f4"},{"offset":0.775,"color":"#c2c2f0"},{"offset":0.78,"color":"#7878ea"},{"offset":0.945,"color":"#5c5ce2"},{"offset":0.95,"color":"#1c1cc4"},{"offset":1,"color":"#1c1cc4"}]}},"encoding":{"x":{"datum":0,"type":"quantitative","scale":{"domain":[-0.08,1],"nice":false,"zero":false},"axis":null},"x2":{"datum":1},"y":{"datum":0,"type":"quantitative","scale":{"domain":[0,1],"nice":false},"axis":null},"y2":{"datum":0.069}}},
{"transform":[{"filter":"datum.t == 'n'"},{"calculate":"['NES = ' + format(datum.nes, '.2f'), 'FDR < 0.01']","as":"lbl"}],"mark":{"type":"text","align":"right","baseline":"top","fontSize":13,"lineHeight":15,"color":"#111"},"encoding":{"x":{"datum":0.953,"type":"quantitative","scale":{"domain":[-0.08,1],"nice":false,"zero":false},"axis":null},"y":{"datum":0.925,"type":"quantitative","scale":{"domain":[0,1],"nice":false},"axis":null},"text":{"field":"lbl"}}},
{"transform":[{"filter":"datum.t == 'n' && datum.p == 'F1'"}],"mark":{"type":"text","align":"center","baseline":"top","fontSize":13,"lineHeight":15,"color":"#111"},"encoding":{"x":{"datum":0.11,"type":"quantitative","scale":{"domain":[-0.08,1],"nice":false,"zero":false},"axis":null},"y":{"datum":-0.05,"type":"quantitative","scale":{"domain":[0,1],"nice":false},"axis":null},"text":{"value":"High"}}},
{"transform":[{"filter":"datum.t == 'n' && datum.p == 'F1'"}],"mark":{"type":"text","align":"center","baseline":"top","fontSize":13,"lineHeight":15,"color":"#111"},"encoding":{"x":{"datum":0.47,"type":"quantitative","scale":{"domain":[-0.08,1],"nice":false,"zero":false},"axis":null},"y":{"datum":-0.05,"type":"quantitative","scale":{"domain":[0,1],"nice":false},"axis":null},"text":{"value":["5-gene","score"]}}},
{"transform":[{"filter":"datum.t == 'n' && datum.p == 'F1'"}],"mark":{"type":"text","align":"center","baseline":"top","fontSize":13,"lineHeight":15,"color":"#111"},"encoding":{"x":{"datum":0.86,"type":"quantitative","scale":{"domain":[-0.08,1],"nice":false,"zero":false},"axis":null},"y":{"datum":-0.05,"type":"quantitative","scale":{"domain":[0,1],"nice":false},"axis":null},"text":{"value":"Low"}}}
]
}
}
]
}
